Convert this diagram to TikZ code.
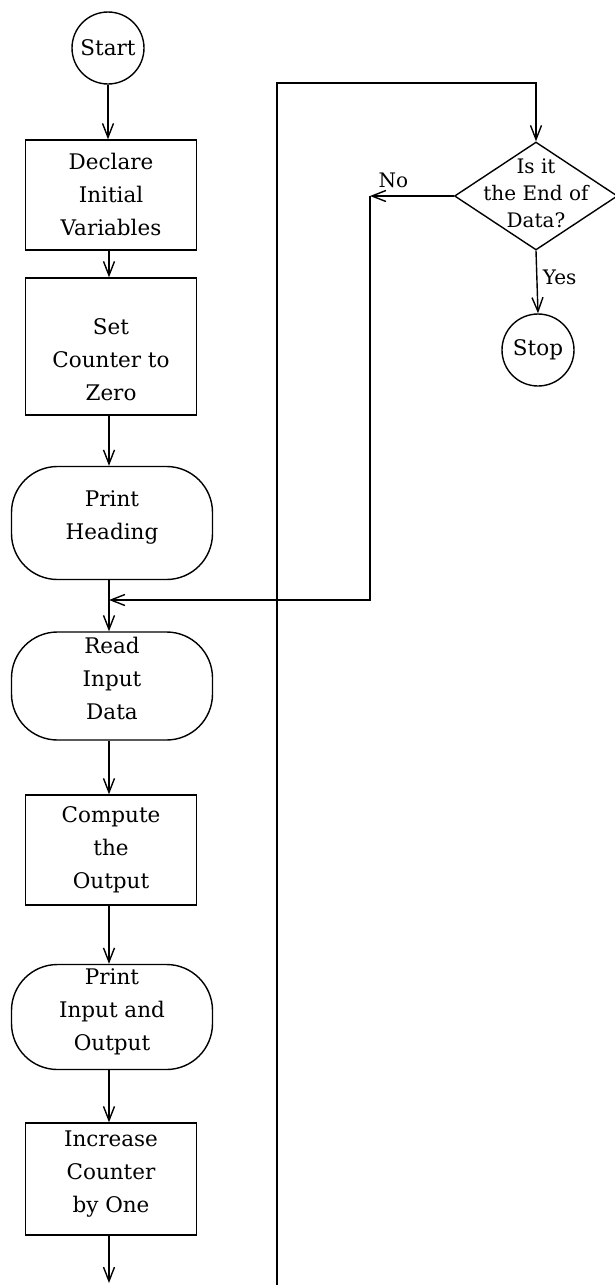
\documentclass[tikz,border=0pt]{standalone}
\usepackage{fontspec}
\setmainfont{DejaVu Serif}
\usetikzlibrary{arrows.meta,shapes.geometric}
\begin{document}
\begin{tikzpicture}[x=1pt,y=-1pt,line width=1.4pt,
  flow/.style={-{Straight Barb[length=14pt,width=11pt,line width=1.4pt]}},
  heavy/.style={line width=2pt},
  txt/.style={font=\fontsize{21.5}{33}\selectfont,align=center},
  procbox/.style={draw,rectangle,minimum width=171pt,inner sep=0pt},
  iobox/.style={draw,rectangle,rounded corners=46pt,minimum width=201pt,inner sep=0pt},
  termin/.style={draw,circle,minimum size=72pt,inner sep=0pt,txt},
  decision/.style={draw,diamond,minimum width=163pt,minimum height=108pt,inner sep=0pt},
  branch/.style={font=\fontsize{20}{24}\selectfont}
]
\useasboundingbox (0,0) rectangle (615,1285);

% main column: shapes carry their wording as a centred label
\node[termin] (start) at (108,48) {Start};
\node[procbox,minimum height=110pt,
  label={[txt,yshift=1pt]center:Declare\\Initial\\Variables}] (declare) at (111,195) {};
\node[procbox,minimum height=137pt,
  label={[txt,yshift=-13pt]center:Set\\Counter to\\Zero}] (setc) at (111,346.5) {};
\node[iobox,minimum height=113pt,
  label={[txt,yshift=6pt]center:Print\\Heading}] (head) at (112,523) {};
\node[iobox,minimum height=108pt,
  label={[txt,yshift=8pt]center:Read\\Input\\Data}] (read) at (112,686) {};
\node[procbox,minimum height=110pt,
  label={[txt]center:Compute\\the\\Output}] (comp) at (111,850) {};
\node[iobox,minimum height=105pt,
  label={[txt,yshift=5pt]center:Print\\Input and\\Output}] (prnt) at (112,1017) {};
\node[procbox,minimum height=112pt,
  label={[txt,yshift=5pt]center:Increase\\Counter\\by One}] (incr) at (111,1179) {};

% decision and exit
\node[decision,label={[font=\fontsize{20}{27}\selectfont,align=center,yshift=3pt]center:Is it\\the End of\\Data?}] (endq) at (536,196) {};
\node[termin] (stop) at (538,350) {Stop};

% junction points
\coordinate (merge) at (109,600);
\coordinate (tail) at (109,1283);
\coordinate (loopbot) at (277,1285);
\coordinate (looptop) at (277,83);
\coordinate (qtop) at (536,83);
\coordinate (nohead) at (370,196);
\coordinate (nobot) at (370,600);

% main flow
\draw[flow,heavy] (start) -- (start |- declare.north);
\draw[flow] (declare.south -| 109,0) -- (109,0 |- setc.north);
\draw[flow,heavy] (setc.south -| 109,0) -- (109,0 |- head.north);
\draw (head.south -| merge) -- (merge);
\draw[flow] (merge) -- (merge |- read.north);
\draw[flow] (read.south -| 109,0) -- (109,0 |- comp.north);
\draw[flow] (comp.south -| 109,0) -- (109,0 |- prnt.north);
\draw[flow] (prnt.south -| 109,0) -- (109,0 |- incr.north);
\draw[flow] (incr.south -| 109,0) -- (tail);

% loop back to the test
\draw[flow,line width=1.7pt] (loopbot) -- (looptop) -- (qtop) -- (endq.north);

% "No" branch
\draw[flow] (endq.west) -- node[branch,above,pos=0.72,yshift=4pt] {No} (nohead);
\draw[flow] (nohead) -- (nobot) -- (merge);

% "Yes" branch
\draw[flow] (endq.south) -- node[branch,right,pos=0.42,xshift=2pt] {Yes} (stop.north);
\end{tikzpicture}
\end{document}
